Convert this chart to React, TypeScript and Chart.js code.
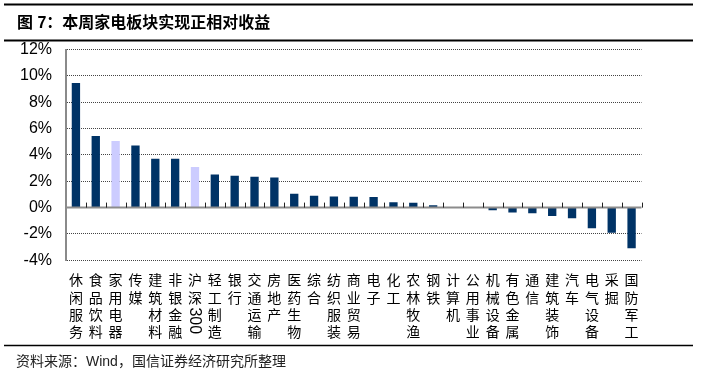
import React, { useEffect, useRef } from "react";
import { Chart, registerables } from "chart.js";

Chart.register(...registerables);

const categories: string[] = [
  "休闲服务", "食品饮料", "家用电器", "传媒", "建筑材料", "非银金融", "沪深300",
  "轻工制造", "银行", "交通运输", "房地产", "医药生物", "综合", "纺织服装",
  "商业贸易", "电子", "化工", "农林牧渔", "钢铁", "计算机", "公用事业",
  "机械设备", "有色金属", "通信", "建筑装饰", "汽车", "电气设备", "采掘", "国防军工",
];

const values: number[] = [
  9.45, 5.44, 5.06, 4.71, 3.70, 3.70, 3.09,
  2.51, 2.41, 2.35, 2.28, 1.06, 0.89, 0.84,
  0.82, 0.81, 0.41, 0.36, 0.18, 0.04, 0.03,
  -0.2, -0.38, -0.43, -0.63, -0.81, -1.57, -1.9, -3.08,
];

const highlighted: string[] = ["家用电器", "沪深300"];

const yMin = -4;
const yMax = 12;
const yStep = 2;

const titleText = "图 7：本周家电板块实现正相对收益";
const sourceText = "资料来源：Wind，国信证券经济研究所整理";

const NAVY = "#003366";
const LILAC = "#CCCCFF";

function tokenize(label: string): { text: string; rotated: boolean }[] {
  const out: { text: string; rotated: boolean }[] = [];
  let buf = "";
  for (const ch of label) {
    if (/[0-9A-Za-z]/.test(ch)) {
      buf += ch;
    } else {
      if (buf) { out.push({ text: buf, rotated: true }); buf = ""; }
      out.push({ text: ch, rotated: false });
    }
  }
  if (buf) out.push({ text: buf, rotated: true });
  return out;
}

const decorPlugin = {
  id: "decor",
  afterDatasetsDraw(chart: any) {
    const { ctx, chartArea, scales } = chart;
    const x = scales.x;
    const y = scales.y;
    const y0 = y.getPixelForValue(0);
    ctx.save();
    ctx.strokeStyle = "#8c8c8c";
    ctx.lineWidth = 2;
    ctx.beginPath();
    ctx.moveTo(chartArea.left, y0);
    ctx.lineTo(chartArea.right, y0);
    ctx.stroke();
    const w = (chartArea.right - chartArea.left) / categories.length;
    ctx.strokeStyle = "#222";
    ctx.lineWidth = 1;
    for (let i = 0; i < categories.length; i++) {
      const xp = Math.round(x.getPixelForValue(i) + w / 2) + 0.5;
      ctx.beginPath();
      ctx.moveTo(xp, y0 - 5);
      ctx.lineTo(xp, y0);
      ctx.stroke();
    }
    ctx.restore();
  },
  afterDraw(chart: any) {
    const { ctx, scales } = chart;
    const x = scales.x;
    ctx.save();
    // category labels, stacked vertically
    ctx.fillStyle = "#000";
    ctx.textAlign = "center";
    ctx.textBaseline = "middle";
    const rowStart = 280;
    const rowGap = 17.2;
    categories.forEach((label, i) => {
      const cx = x.getPixelForValue(i);
      let yy = rowStart;
      tokenize(label).forEach((tok) => {
        if (!tok.rotated) {
          ctx.font = '14px "Noto Sans CJK SC"';
          ctx.fillText(tok.text, cx, yy);
          yy += rowGap;
        } else {
          ctx.font = '16px "Liberation Sans"';
          const tw = ctx.measureText(tok.text).width;
          const top = yy - 7;
          ctx.save();
          ctx.translate(cx, top + tw / 2);
          ctx.rotate(Math.PI / 2);
          ctx.fillText(tok.text, 0, 1);
          ctx.restore();
          yy += tw + 4;
        }
      });
    });

    // title and rules
    ctx.strokeStyle = "#000";
    ctx.lineWidth = 2;
    ctx.beginPath();
    ctx.moveTo(4, 4.5);
    ctx.lineTo(693, 4.5);
    ctx.moveTo(4, 40.5);
    ctx.lineTo(693, 40.5);
    ctx.stroke();
    ctx.lineWidth = 1.5;
    ctx.beginPath();
    ctx.moveTo(4, 345.5);
    ctx.lineTo(693, 345.5);
    ctx.stroke();

    ctx.textAlign = "left";
    ctx.textBaseline = "middle";
    ctx.fillStyle = "#000";
    ctx.font = 'bold 16px "Liberation Sans", "Noto Sans CJK SC"';
    ctx.fillText(titleText, 17, 23.5);

    ctx.fillStyle = "#222";
    ctx.font = '14px "Liberation Sans", "Noto Sans CJK SC"';
    ctx.fillText(sourceText, 16, 362.5);
    ctx.restore();
  },
};

export default function App() {
  const ref = useRef<HTMLCanvasElement | null>(null);

  useEffect(() => {
    if (!ref.current) return;
    const chart = new Chart(ref.current, {
      type: "bar",
      data: {
        labels: categories,
        datasets: [
          {
            data: values,
            backgroundColor: categories.map((c) => (highlighted.includes(c) ? LILAC : NAVY)),
            barPercentage: 0.42,
            categoryPercentage: 1,
          },
        ],
      },
      options: {
        responsive: false,
        animation: false,
        devicePixelRatio: 1,
        layout: { padding: { left: 0, right: 60.5, top: 49.5, bottom: 115.7 } },
        plugins: {
          legend: { display: false },
          tooltip: { enabled: false },
          title: { display: false },
        },
        scales: {
          x: {
            display: false,
          },
          y: {
            min: yMin,
            max: yMax,
            afterFit: (scale: any) => {
              scale.width = 66;
            },
            ticks: {
              stepSize: yStep,
              padding: 14,
              color: "#000",
              font: { family: '"Liberation Sans"', size: 16 },
              callback: (v: any) => `${v}%`,
            },
            grid: {
              drawTicks: false,
              color: (ctx: any) => (ctx.tick && ctx.tick.value === 0 ? "rgba(0,0,0,0)" : "#444"),
              lineWidth: 1,
            },
            border: {
              display: true,
              color: "#8a8a8a",
              width: 2,
              dash: (ctx: any) => (ctx.tick ? [1, 1] : []),
            },
          },
        },
      },
      plugins: [decorPlugin],
    });
    return () => chart.destroy();
  }, []);

  return (
    <div style={{ position: "fixed", left: 0, top: 0, width: 702, height: 376, background: "#fff" }}>
      <canvas ref={ref} width={702} height={376} style={{ display: "block" }} />
    </div>
  );
}
